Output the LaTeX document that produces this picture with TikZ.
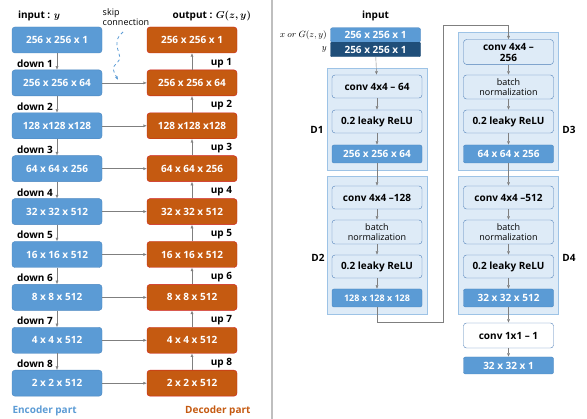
\documentclass[tikz,border=0pt]{standalone}
\usepackage{fontspec}
\setmainfont{Open Sans}
\usepackage{xcolor}
\usepackage{tikz}
\usetikzlibrary{positioning,calc,arrows.meta}

\definecolor{encblue}{HTML}{5B9BD5}
\definecolor{encline}{HTML}{4A86C0}
\definecolor{decorange}{HTML}{C55A11}
\definecolor{decline}{HTML}{D02020}
\definecolor{darkblue}{HTML}{1F4E79}
\definecolor{groupfill}{HTML}{DEEBF7}
\definecolor{groupline}{HTML}{9DC3E6}
\definecolor{layerline}{HTML}{4F7FB8}
\definecolor{wire}{HTML}{7F7F7F}

\tikzset{
    encbox/.style={draw=encline, fill=encblue, rounded corners=3pt, minimum width=90pt, minimum height=26pt, text=white, font=\fontsize{10}{12}\selectfont\bfseries},
    decbox/.style={encbox, draw=decline, fill=decorange},
    layer/.style={draw=layerline, fill=groupfill, rounded corners=3pt, minimum width=90pt, minimum height=23pt, align=center, font=\fontsize{10}{11}\selectfont\bfseries},
    bnlayer/.style={layer, minimum height=24pt, inner sep=1pt, text=black, font=\fontsize{9}{10}\selectfont},
    featmap/.style={draw=encline, fill=encblue, rounded corners=2pt, minimum width=90pt, minimum height=18pt, text=white, font=\fontsize{10}{12}\selectfont\bfseries},
    group/.style={draw=groupline, fill=groupfill},
    tag/.style={font=\fontsize{10}{12}\selectfont\bfseries\boldmath},
    link/.style={wire, -{Latex[length=3.5pt,width=3pt]}, shorten >=0pt},
}

\begin{document}
\begin{tikzpicture}[x=1pt,y=-1pt]
    \useasboundingbox (0,0) rectangle (587,419);

    % generator
    \foreach \t [count=\i] in {256 x 256 x 1, 256 x 256 x 64, 128 x128 x128, 64 x 64 x 256, 32 x 32 x 512, 16 x 16 x 512, 8 x 8 x 512, 4 x 4 x 512, 2 x 2 x 512} {
        \node[encbox] (e\i) at (57, {40+42.9*(\i-1)}) {\t};
        \node[decbox] (d\i) at (192, {40+42.9*(\i-1)}) {\t};
    }
    \foreach \i [evaluate=\i as \j using int(\i+1)] in {1,...,8} {
        \draw[link] (e\i) -- (e\j);
        \draw[link] (d\j) -- (d\i);
        \node[tag, anchor=south west, inner sep=0pt] at ($(e\j.north west)+(5,-2)$) {down \i};
        \node[tag, anchor=south east, inner sep=0pt] at ($(d\j.north east)+(-5,-2)$) {up \i};
    }
    \foreach \i in {2,...,9} \draw[link] (e\i) -- (d\i);

    \node[tag, anchor=south west, inner sep=0pt] at ($(e1.north west)+(6,-6)$) {input : $y$};
    \node[tag, anchor=south east, inner sep=0pt] at ($(d1.north east)+(14,-6)$) {output : $G(z,y)$};
    \node[font=\fontsize{9}{10}\selectfont, align=left, inner sep=0pt] (skip) at (126,17) {skip\\connection};
    \coordinate (skipend) at (118,80);
    \draw[encblue, dashed, thick, -{Latex[length=3.5pt,width=3pt]}] (123,32) .. controls (108,45) and (126,55) .. (117,63) .. controls (112,68) .. (skipend);
    \node[tag, text=encblue, anchor=west] at (9,411) {Encoder part};
    \node[tag, text=decorange, anchor=east] at (254,411) {Decoder part};

    \draw[black!25, line width=1.5pt] (272,0) -- (272,419);

    % discriminator
    \node[tag] at (375.5,16) {input};
    \node[featmap, minimum height=14.5pt] (inx) at (375.5,35) {256 x 256 x 1};
    \node[featmap, minimum height=14.5pt, draw=darkblue, fill=darkblue, rounded corners=1pt] (iny) at (375.5,49.5) {256 x 256 x 1};
    \node[anchor=east, font=\fontsize{9}{10}\selectfont] at (inx.west) {$x~or~G(z,y)$};
    \node[anchor=east, font=\fontsize{9}{10}\selectfont] at (iny.west) {$y$};

    \draw[group] (327,68) rectangle (427,170);
    \draw[group] (327,176) rectangle (427,314);
    \draw[group] (458,32) rectangle (558,170);
    \draw[group] (458,176) rectangle (558,314);
    \node[tag] at (317,130) {D1};
    \node[tag] at (318,258) {D2};
    \node[tag] at (569,130) {D3};
    \node[tag] at (569,258) {D4};

    \node[layer] (conv1) at (377,86.5) {conv 4x4 -- 64};
    \node[layer] (relu1) at (377,121.5) {0.2 leaky ReLU};
    \node[featmap] (out1) at (377,154) {256 x 256 x 64};
    \node[layer] (conv2) at (377,197.5) {conv 4x4 --128};
    \node[bnlayer] (bn2) at (377,232) {batch\\normalization};
    \node[layer] (relu2) at (377,266.5) {0.2 leaky ReLU};
    \node[featmap, font=\fontsize{9}{11}\selectfont\bfseries] (out2) at (377,298) {128 x 128 x 128};

    \node[layer, minimum height=24pt] (conv3) at (508.5,52) {conv 4x4 --\\256};
    \node[bnlayer] (bn3) at (508.5,87) {batch\\normalization};
    \node[layer] (relu3) at (508.5,121.5) {0.2 leaky ReLU};
    \node[featmap] (out3) at (508.5,154) {64 x 64 x 256};
    \node[layer] (conv4) at (508.5,197.5) {conv 4x4 --512};
    \node[bnlayer] (bn4) at (508.5,232) {batch\\normalization};
    \node[layer] (relu4) at (508.5,266.5) {0.2 leaky ReLU};
    \node[featmap] (out4) at (508.5,298) {32 x 32 x 512};
    \node[layer, fill=white, minimum height=25pt] (conv5) at (508.5,335.5) {conv 1x1 -- 1};
    \node[featmap, minimum height=17pt] (out5) at (508.5,365.5) {32 x 32 x 1};

    \draw[link] (iny) -- (conv1);
    \draw[link] (conv1) -- (relu1);
    \draw[link] (relu1) -- (out1);
    \draw[link] (out1) -- (conv2);
    \draw[link] (conv2) -- (bn2);
    \draw[link] (bn2) -- (relu2);
    \draw[link] (relu2) -- (out2);
    \coordinate (turn) at (443,25);
    \draw[link] (out2.south) |- (377,322) -| (turn) -| (conv3.north);
    \draw[link] (conv3) -- (bn3);
    \draw[link] (bn3) -- (relu3);
    \draw[link] (relu3) -- (out3);
    \draw[link] (out3) -- (conv4);
    \draw[link] (conv4) -- (bn4);
    \draw[link] (bn4) -- (relu4);
    \draw[link] (relu4) -- (out4);
    \draw[link] (out4) -- (conv5);
    \draw[link] (conv5) -- (out5);
\end{tikzpicture}
\end{document}
